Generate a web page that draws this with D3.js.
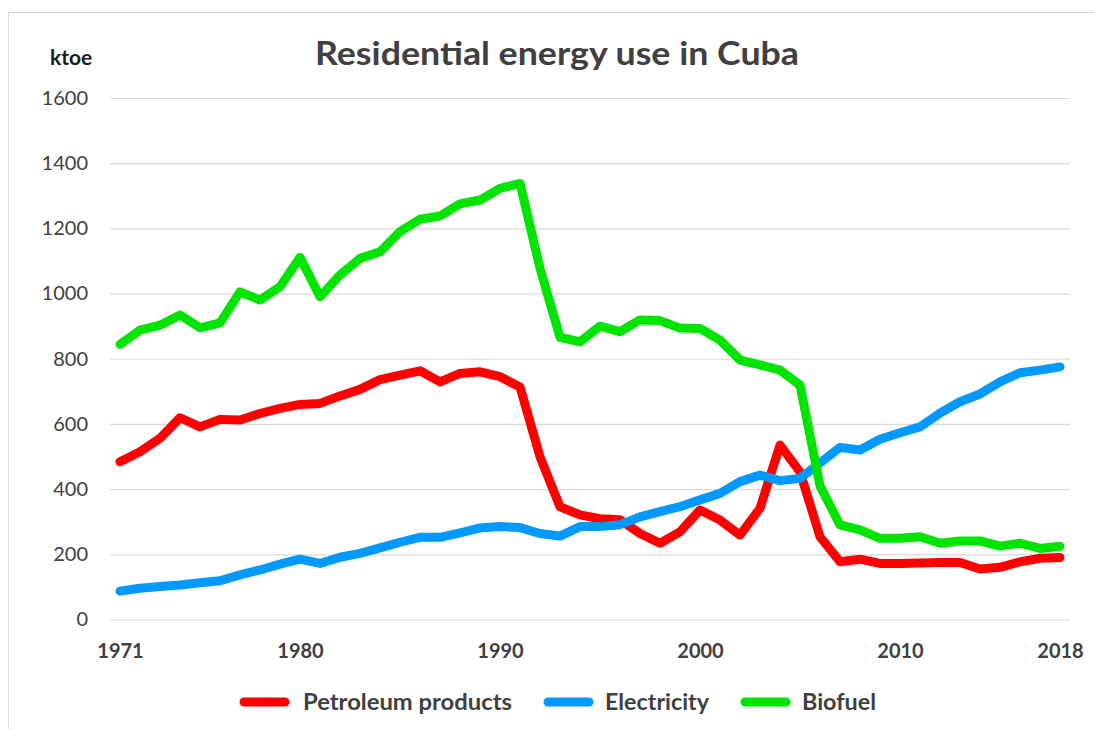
<!DOCTYPE html>
<html>
<head>
<meta charset="utf-8">
<script src="https://cdn.jsdelivr.net/npm/d3@7"></script>
<style>
  html, body { margin: 0; padding: 0; background: #fff; }
  svg { display: block; }
</style>
</head>
<body>
<svg id="chart" width="1094" height="729"></svg>
<script>
const years = d3.range(1971, 2019);
const xTickLabels = [1971, 1980, 1990, 2000, 2010, 2018];
const yTickLabels = [0, 200, 400, 600, 800, 1000, 1200, 1400, 1600];
const seriesNames = ["Petroleum products", "Electricity", "Biofuel"];
const seriesColors = ["#ff0000", "#0099ff", "#00e400"];

const petroleum = [484, 515, 556, 619, 591, 614, 612, 632, 648, 660,
  663, 686, 706, 736, 750, 763, 729, 755, 760, 745,
  713, 499, 346, 321, 309, 306, 264, 234, 269, 336,
  305, 259, 341, 535, 453, 254, 177, 185, 172, 172,
  173, 175, 175, 155, 160, 177, 188, 190];
const electricity = [87, 96, 101, 106, 113, 119, 137, 152, 170, 185,
  172, 191, 203, 220, 237, 252, 252, 266, 281, 285,
  282, 264, 256, 285, 285, 291, 315, 331, 346, 367,
  387, 423, 443, 426, 433, 480, 528, 520, 553, 573,
  591, 633, 668, 692, 729, 757, 765, 775];
const biofuel = [844, 888, 903, 934, 895, 910, 1005, 980, 1021, 1111,
  990, 1057, 1108, 1128, 1190, 1228, 1238, 1275, 1287, 1323,
  1338, 1077, 866, 852, 900, 883, 919, 917, 894, 893,
  857, 796, 781, 765, 719, 410, 290, 275, 249, 249,
  254, 234, 241, 241, 225, 234, 218, 225];

const seriesValues = [petroleum, electricity, biofuel];

const svg = d3.select("#chart");
const font = "Lato, 'Open Sans', sans-serif";
const textColor = "#404040";

// outer border
svg.append("rect")
  .attr("x", 8.5).attr("y", 12.5)
  .attr("width", 1100).attr("height", 730)
  .attr("fill", "#fff").attr("stroke", "#d9d9d9").attr("stroke-width", 1);

const plotLeft = 110, plotRight = 1070, plotTop = 98, plotBottom = 619.5;

const x = d3.scaleLinear().domain([1971, 2018]).range([120, 1060]);
const y = d3.scaleLinear().domain([0, 1600]).range([plotBottom, plotTop]);

// y axis with gridlines
const yAxis = svg.append("g")
  .attr("transform", `translate(${plotLeft},0)`)
  .call(d3.axisLeft(y).tickValues(yTickLabels).tickSize(-(plotRight - plotLeft)).tickPadding(22).tickFormat(d3.format("d")));
yAxis.select(".domain").remove();
yAxis.selectAll(".tick line").attr("stroke", "#d9d9d9").attr("stroke-width", 1.2);
yAxis.selectAll(".tick text")
  .attr("fill", textColor)
  .style("font-family", font).style("font-size", "20px");

// x axis labels
const xAxis = svg.append("g")
  .attr("transform", `translate(0,${plotBottom})`)
  .call(d3.axisBottom(x).tickValues(xTickLabels).tickSize(0).tickPadding(24).tickFormat(d3.format("d")));
xAxis.select(".domain").remove();
xAxis.selectAll(".tick text")
  .attr("fill", textColor)
  .style("font-family", font).style("font-size", "20px").style("font-weight", "bold");

// lines
const line = d3.line()
  .x((d, i) => x(years[i]))
  .y(d => y(d));

seriesValues.forEach((vals, k) => {
  svg.append("path")
    .datum(vals)
    .attr("d", line)
    .attr("fill", "none")
    .attr("stroke", seriesColors[k])
    .attr("stroke-width", 9)
    .attr("stroke-linejoin", "round")
    .attr("stroke-linecap", "round");
});

// title
svg.append("text")
  .attr("x", 557).attr("y", 65)
  .attr("text-anchor", "middle")
  .attr("fill", textColor)
  .attr("textLength", 484).attr("lengthAdjust", "spacingAndGlyphs")
  .style("font-family", font).style("font-size", "33px").style("font-weight", "bold")
  .text("Residential energy use in Cuba");

// unit label
svg.append("text")
  .attr("x", 50).attr("y", 65)
  .attr("fill", "#1a1a1a")
  .style("font-family", font).style("font-size", "21px").style("font-weight", "bold")
  .text("ktoe");

// legend
const legendItems = [
  { x0: 244, tx: 303, w: 209 },
  { x0: 548, tx: 605, w: 104 },
  { x0: 745, tx: 802, w: 74 }
];
const legendY = 702;
seriesNames.forEach((name, k) => {
  const g = svg.append("g");
  g.append("line")
    .attr("x1", legendItems[k].x0).attr("x2", legendItems[k].x0 + 41)
    .attr("y1", legendY).attr("y2", legendY)
    .attr("stroke", seriesColors[k]).attr("stroke-width", 9).attr("stroke-linecap", "round");
  g.append("text")
    .attr("x", legendItems[k].tx).attr("y", legendY + 8)
    .attr("fill", textColor)
    .attr("textLength", legendItems[k].w).attr("lengthAdjust", "spacingAndGlyphs")
    .style("font-family", font).style("font-size", "22px").style("font-weight", "bold")
    .text(name);
});
</script>
</body>
</html>
